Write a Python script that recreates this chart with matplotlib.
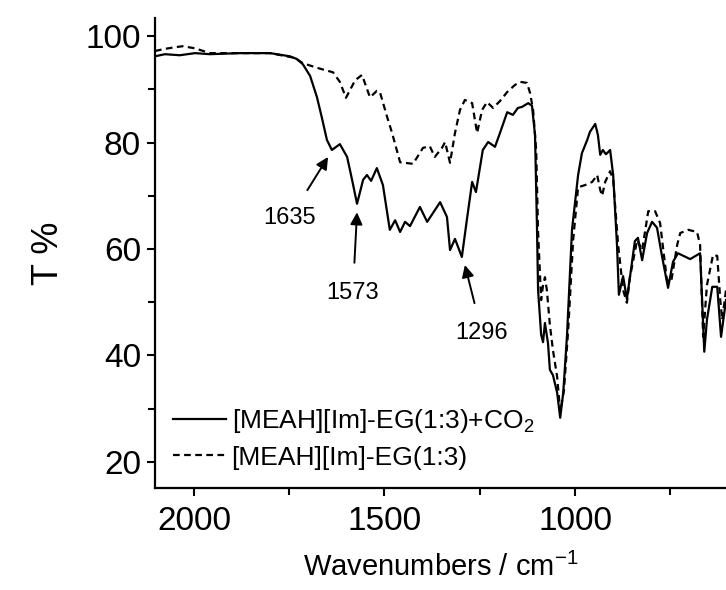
import matplotlib
matplotlib.use('Agg')
import matplotlib.pyplot as plt
from matplotlib.ticker import MultipleLocator

plt.rcParams['font.family'] = ['Liberation Sans', 'DejaVu Sans']
plt.rcParams['mathtext.fontset'] = 'custom'
plt.rcParams['mathtext.rm'] = 'Liberation Sans'
plt.rcParams['mathtext.it'] = 'Liberation Sans:italic'

# [MEAH][Im]-EG(1:3)+CO2 (solid)
wn_co2 = [2102, 2076, 2037, 1997, 1958, 1879, 1800, 1748, 1730, 1714, 1695, 1677,
          1664, 1651, 1638, 1617, 1598, 1585, 1572, 1556, 1546, 1535, 1520, 1504,
          1486, 1472, 1459, 1446, 1433, 1407, 1388, 1354, 1336, 1328, 1315, 1297,
          1284, 1270, 1260, 1242, 1228, 1210, 1197, 1178, 1163, 1150, 1139, 1123,
          1113, 1105, 1100, 1097, 1089, 1084, 1079, 1071, 1066, 1058, 1047, 1039,
          1031, 1021, 1008, 992, 982, 968, 961, 947, 940, 934, 927, 919, 908, 900,
          890, 885, 874, 864, 856, 843, 835, 824, 811, 798, 785, 772, 756, 743,
          730, 698, 672, 667, 661, 654, 640, 627, 617, 604]
t_co2 = [96.2, 96.6, 96.4, 96.8, 96.6, 96.8, 96.8, 96.2, 95.7, 94.7, 92.5, 88.5,
         84.6, 80.5, 78.6, 79.7, 77.3, 73.0, 68.5, 73.0, 73.9, 72.8, 75.2, 72.0,
         63.6, 65.4, 63.2, 65.1, 64.3, 67.9, 65.1, 68.8, 66.0, 59.8, 61.9, 58.5,
         65.4, 72.6, 70.7, 78.6, 80.1, 79.2, 81.8, 85.7, 85.2, 86.5, 86.7, 87.4,
         86.9, 81.4, 64.5, 52.3, 43.9, 42.5, 46.1, 42.3, 37.3, 36.3, 33.0, 28.3,
         33.0, 43.9, 63.6, 73.9, 78.0, 80.5, 82.0, 83.5, 81.4, 77.7, 78.6, 77.8,
         78.6, 73.9, 60.8, 51.4, 54.9, 50.6, 54.7, 61.5, 62.1, 57.9, 63.0, 65.1,
         64.0, 58.7, 52.7, 57.6, 59.2, 58.1, 59.2, 51.0, 40.7, 46.7, 52.9, 52.9,
         43.5, 50.4]

# [MEAH][Im]-EG(1:3) (dashed)
wn_eg = [2102, 2076, 2050, 2029, 1997, 1958, 1879, 1800, 1735, 1714, 1675, 1635,
         1617, 1601, 1577, 1559, 1538, 1520, 1512, 1493, 1480, 1459, 1425, 1399,
         1381, 1368, 1349, 1341, 1328, 1315, 1302, 1289, 1270, 1257, 1244, 1231,
         1215, 1197, 1178, 1158, 1144, 1126, 1118, 1110, 1102, 1097, 1089, 1084,
         1079, 1074, 1066, 1058, 1047, 1039, 1029, 1018, 1005, 992, 974, 955, 942,
         934, 929, 921, 908, 900, 887, 874, 864, 856, 837, 824, 808, 790, 777,
         759, 748, 732, 724, 703, 680, 672, 664, 654, 638, 627, 619, 614, 604]
t_eg = [97.2, 97.6, 97.9, 98.1, 97.7, 96.8, 96.8, 96.8, 95.9, 94.9, 94.0, 93.2,
        91.4, 88.4, 91.7, 92.7, 88.5, 89.7, 89.5, 84.8, 81.8, 76.3, 76.0, 79.0,
        79.3, 77.3, 79.0, 80.1, 76.2, 81.8, 86.1, 88.0, 87.4, 81.8, 86.1, 87.6,
        86.5, 87.8, 89.5, 90.8, 91.4, 91.2, 89.3, 86.1, 78.6, 63.2, 50.4, 53.2,
        54.7, 52.3, 45.7, 41.0, 36.0, 29.4, 33.5, 44.8, 61.7, 71.6, 72.0, 72.6,
        73.9, 71.1, 70.0, 72.6, 74.6, 73.0, 60.8, 52.3, 49.9, 54.7, 61.7, 59.8,
        67.1, 67.1, 64.9, 54.2, 53.8, 60.8, 63.0, 63.6, 63.2, 60.8, 43.5, 53.2,
        58.9, 58.7, 50.4, 46.7, 52.3]

# peak labels: text, (tip wn, tip T), (text wn, text T)
peak_labels = ['1635', '1573', '1296']
peak_tips = [(1648, 77.3), (1572, 66.9), (1289, 57.0)]
peak_text = [(1748, 65.8), (1583, 51.7), (1244, 44.2)]

fig = plt.figure(figsize=(7.26, 5.90), dpi=100)
ax = fig.add_axes([0.2135, 0.1729, 0.7865, 0.7966])

ax.plot(wn_co2, t_co2, color='black', lw=1.6, label='[MEAH][Im]-EG(1:3)+CO$_2$')
ax.plot(wn_eg, t_eg, color='black', lw=1.6, ls=(0, (3, 2)), label='[MEAH][Im]-EG(1:3)')

for lab, tip, txt in zip(peak_labels, peak_tips, peak_text):
    ax.annotate(lab, xy=tip, xytext=txt, ha='center', va='center', fontsize=17,
                arrowprops=dict(arrowstyle='-|>', color='black', lw=1.4,
                                mutation_scale=18, shrinkA=12, shrinkB=0))

ax.set_xlim(2102, 604)
ax.set_ylim(15.1, 103.4)
ax.xaxis.set_major_locator(MultipleLocator(500))
ax.xaxis.set_minor_locator(MultipleLocator(250))
ax.yaxis.set_major_locator(MultipleLocator(20))
ax.yaxis.set_minor_locator(MultipleLocator(10))
ax.tick_params(which='major', direction='out', length=6, width=1.5, labelsize=24)
ax.tick_params(axis='x', which='major', pad=7)
ax.tick_params(axis='y', which='major', pad=4)
ax.tick_params(which='minor', direction='out', length=5, width=1.5)
for s in ['top', 'right']:
    ax.spines[s].set_visible(False)
for s in ['left', 'bottom']:
    ax.spines[s].set_linewidth(1.6)

ax.set_xlabel('Wavenumbers / cm$^{-1}$', fontsize=21, labelpad=11)
ax.set_ylabel('T %', fontsize=26, labelpad=14)

ax.legend(loc='lower left', frameon=False, fontsize=19, handlelength=2.0,
          handletextpad=0.2, borderaxespad=0.3, labelspacing=0.4,
          bbox_to_anchor=(0.0, 0.0))

fig.savefig('out.png', dpi=100)
